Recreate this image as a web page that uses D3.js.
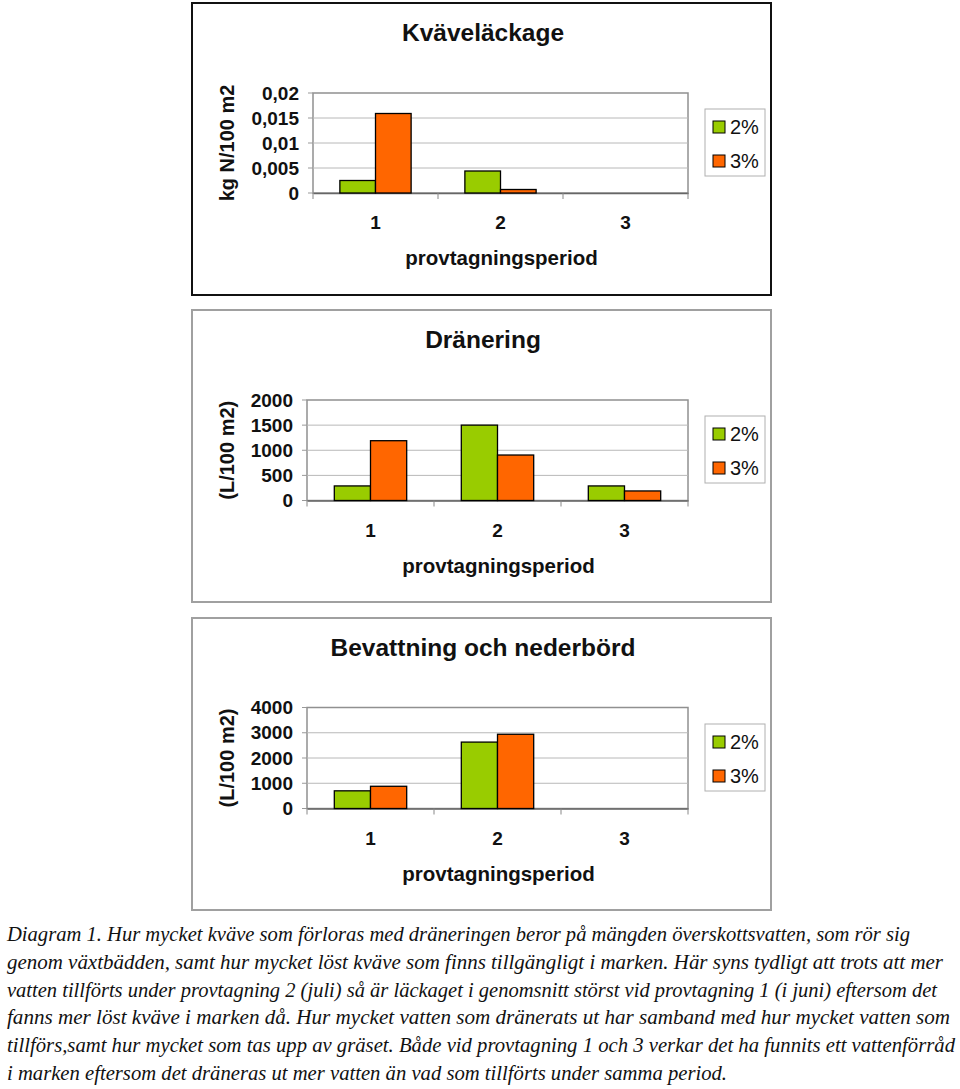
<!DOCTYPE html>
<html><head><meta charset="utf-8">
<script src="https://cdn.jsdelivr.net/npm/d3@7"></script>
<style>body{margin:0;background:#fff}svg{display:block}</style>
</head><body>
<script>
// ---- data ----
const categories = ["1", "2", "3"];
const seriesNames = ["2%", "3%"];
const seriesColors = ["#99cc00", "#ff6600"];

const kvaveTitle = "Kväveläckage";
const kvaveYLabel = "kg N/100 m2";
const kvave2 = [0.0025, 0.0044, 0];
const kvave3 = [0.0159, 0.0007, 0];
const kvaveTicks = [0, 0.005, 0.01, 0.015, 0.02];

const dranTitle = "Dränering";
const dranYLabel = "(L/100 m2)";
const dran2 = [290, 1500, 290];
const dran3 = [1190, 905, 190];
const dranTicks = [0, 500, 1000, 1500, 2000];

const bevTitle = "Bevattning och nederbörd";
const bevYLabel = "(L/100 m2)";
const bev2 = [700, 2630, 0];
const bev3 = [880, 2940, 0];
const bevTicks = [0, 1000, 2000, 3000, 4000];

const xTitle = "provtagningsperiod";

const captionLines = [
  "Diagram 1. Hur mycket kväve som förloras med dräneringen beror på mängden överskottsvatten, som rör sig",
  "genom växtbädden, samt hur mycket löst kväve som finns tillgängligt i marken. Här syns tydligt att trots att mer",
  "vatten tillförts under provtagning 2 (juli) så är läckaget i genomsnitt störst vid provtagning 1 (i juni) eftersom det",
  "fanns mer löst kväve i marken då. Hur mycket vatten som dränerats ut har samband med hur mycket vatten som",
  "tillförs,samt hur mycket som tas upp av gräset. Både vid provtagning 1 och 3 verkar det ha funnits ett vattenförråd",
  "i marken eftersom det dräneras ut mer vatten än vad som tillförts under samma period."
];
const captionWidths = [903, 936, 930, 943, 948, 720];

// ---- drawing ----
const svg = d3.select("body").append("svg").attr("width", 960).attr("height", 1089);
const SANS = "'Liberation Sans', Arial, sans-serif";

function fmtComma(v){ return String(v).replace(".", ","); }

function drawChart(cfg) {
  const g = svg.append("g");
  g.append("rect").attr("x", cfg.box[0]).attr("y", cfg.box[1])
    .attr("width", cfg.box[2]).attr("height", cfg.box[3])
    .attr("fill", "#fff").attr("stroke", cfg.frameColor).attr("stroke-width", cfg.frameWidth);

  g.append("text").attr("x", 483).attr("y", cfg.box[1] + 38)
    .attr("text-anchor", "middle").attr("font-family", SANS).attr("font-weight", "bold")
    .attr("font-size", 24.5).attr("fill", "#111").text(cfg.title);

  const x = d3.scaleBand().domain(categories).range([cfg.plot[0], cfg.plot[1]]);
  const y = d3.scaleLinear().domain([cfg.ticks[0], cfg.ticks[cfg.ticks.length-1]]).range([cfg.plot[3], cfg.plot[2]]);
  const groupW = x.bandwidth() * 0.57;
  const xs = d3.scaleBand().domain(seriesNames).range([(x.bandwidth() - groupW) / 2, (x.bandwidth() + groupW) / 2]);

  g.append("rect").attr("x", cfg.plot[0]).attr("y", cfg.plot[2])
    .attr("width", cfg.plot[1] - cfg.plot[0]).attr("height", cfg.plot[3] - cfg.plot[2])
    .attr("fill", "#fff").attr("stroke", "#909090").attr("stroke-width", 1.5);

  g.append("g").selectAll("line").data(cfg.ticks.slice(1, -1)).join("line")
    .attr("x1", cfg.plot[0]).attr("x2", cfg.plot[1])
    .attr("y1", d => y(d)).attr("y2", d => y(d))
    .attr("stroke", "#b8b8b8").attr("stroke-width", 1);

  // small y tick marks
  g.append("g").selectAll("line").data(cfg.ticks).join("line")
    .attr("x1", cfg.plot[0] - 5).attr("x2", cfg.plot[0])
    .attr("y1", d => y(d)).attr("y2", d => y(d))
    .attr("stroke", "#999").attr("stroke-width", 1);

  const ya = g.append("g").attr("transform", `translate(${cfg.plot[0]},0)`)
    .call(d3.axisLeft(y).tickValues(cfg.ticks).tickSize(0).tickPadding(cfg.yPad).tickFormat(cfg.fmt));
  ya.select(".domain").remove();
  ya.selectAll("text").attr("font-family", SANS).attr("font-weight", "bold").attr("font-size", 19).attr("fill", "#111");

  const xa = g.append("g").attr("transform", `translate(0,${cfg.plot[3]})`)
    .call(d3.axisBottom(x).tickSize(0).tickPadding(23));
  xa.select(".domain").attr("stroke", "#666").attr("stroke-width", 1.5);
  xa.selectAll("text").attr("font-family", SANS).attr("font-weight", "bold").attr("font-size", 19).attr("fill", "#111");
  const bounds = categories.map(c => x(c)).concat([cfg.plot[1]]);
  g.append("g").selectAll("line").data(bounds).join("line")
    .attr("x1", d => d).attr("x2", d => d)
    .attr("y1", cfg.plot[3]).attr("y2", cfg.plot[3] + 6)
    .attr("stroke", "#888").attr("stroke-width", 1);

  const data = [];
  categories.forEach((c, i) => {
    seriesNames.forEach((s, j) => data.push({c, s, v: cfg.values[j][i], color: seriesColors[j]}));
  });
  g.append("g").selectAll("rect").data(data.filter(d => d.v > 0)).join("rect")
    .attr("x", d => x(d.c) + xs(d.s))
    .attr("width", xs.bandwidth())
    .attr("y", d => y(d.v))
    .attr("height", d => y(0) - y(d.v))
    .attr("fill", d => d.color).attr("stroke", "#000").attr("stroke-width", 1.3);

  g.append("text").attr("x", (cfg.plot[0] + cfg.plot[1]) / 2 + 1).attr("y", cfg.plot[3] + 72)
    .attr("text-anchor", "middle").attr("font-family", SANS).attr("font-weight", "bold")
    .attr("font-size", 20.5).attr("fill", "#111").text(xTitle);

  g.append("text").attr("transform", `translate(${cfg.yTitleX},${(cfg.plot[2] + cfg.plot[3]) / 2}) rotate(-90)`)
    .attr("text-anchor", "middle").attr("dominant-baseline", "central")
    .attr("font-family", SANS).attr("font-weight", "bold").attr("font-size", 20).attr("fill", "#111")
    .text(cfg.yLabel);

  const lx = 705, ly = cfg.box[1] + 106;
  g.append("rect").attr("x", lx).attr("y", ly).attr("width", 60).attr("height", 67)
    .attr("fill", "#fff").attr("stroke", "#b0b0b0").attr("stroke-width", 1);
  const li = g.append("g").selectAll("g").data(seriesNames).join("g")
    .attr("transform", (d, i) => `translate(${lx + 8},${ly + 12 + i * 34})`);
  li.append("rect").attr("width", 12).attr("height", 12)
    .attr("fill", (d, i) => seriesColors[i]).attr("stroke", "#000").attr("stroke-width", 1);
  li.append("text").attr("x", 17).attr("y", 6).attr("dominant-baseline", "central")
    .attr("font-family", SANS).attr("font-size", 20).attr("fill", "#111").text(d => d);
}

drawChart({box: [192, 3, 579, 292], frameColor: "#111", frameWidth: 2,
  plot: [313, 688, 93, 193], ticks: kvaveTicks, values: [kvave2, kvave3],
  title: kvaveTitle, yLabel: kvaveYLabel, yTitleX: 227, yPad: 14, fmt: fmtComma});
drawChart({box: [192, 310, 579, 292], frameColor: "#a0a0a0", frameWidth: 2,
  plot: [307, 688, 400, 500.5], ticks: dranTicks, values: [dran2, dran3],
  title: dranTitle, yLabel: dranYLabel, yTitleX: 227, yPad: 14, fmt: d => String(d)});
drawChart({box: [192, 618, 579, 292], frameColor: "#a0a0a0", frameWidth: 2,
  plot: [307, 688, 707.5, 808.5], ticks: bevTicks, values: [bev2, bev3],
  title: bevTitle, yLabel: bevYLabel, yTitleX: 227, yPad: 14, fmt: d => String(d)});

svg.append("g").selectAll("text").data(captionLines).join("text")
  .attr("x", 7).attr("y", (d, i) => 941 + i * 27.8)
  .attr("font-family", "'Liberation Serif', 'Times New Roman', serif")
  .attr("font-style", "italic").attr("font-size", 20).attr("fill", "#111")
  .attr("textLength", (d, i) => captionWidths[i]).attr("lengthAdjust", "spacingAndGlyphs")
  .text(d => d);
</script>
</body></html>
